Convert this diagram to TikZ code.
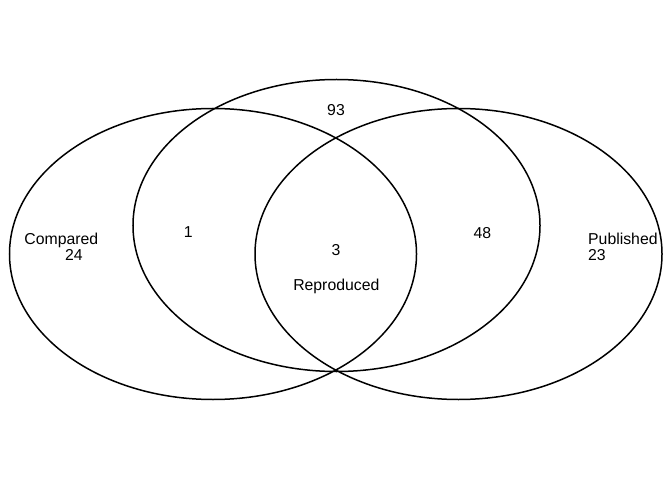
\documentclass[tikz,border=0pt]{standalone}
\usepackage{fontspec}
\setmainfont{Liberation Sans}
\begin{document}
\begin{tikzpicture}[x=1bp,y=-1bp,
  setline/.style={line width=1.5bp, draw=black},
  lbl/.style={inner sep=0pt, anchor=base, font=\fontsize{15.8bp}{17bp}\selectfont}]
\useasboundingbox (0,0) rectangle (672,480);
\draw[setline] (213,254) ellipse [x radius=203.5bp, y radius=145.5bp];
\draw[setline] (336.5,225.5) ellipse [x radius=203.5bp, y radius=146bp];
\draw[setline] (458.5,254) ellipse [x radius=203.5bp, y radius=145.5bp];
\node[lbl] (compared) at (61.3,244.7) {Compared};
\node[lbl] (n24) at (74,260.7) {24};
\node[lbl, anchor=base west] (published) at (588,245) {Published};
\node[lbl, anchor=base west] (n23) at (588,261) {23};
\node[lbl] (n93) at (336,115.7) {93};
\node[lbl] (n1) at (188.3,237.7) {1};
\node[lbl] (n48) at (482.3,238.3) {48};
\node[lbl] (n3) at (336,255.7) {3};
\node[lbl] (reproduced) at (336.3,290) {Reproduced};
\end{tikzpicture}
\end{document}
